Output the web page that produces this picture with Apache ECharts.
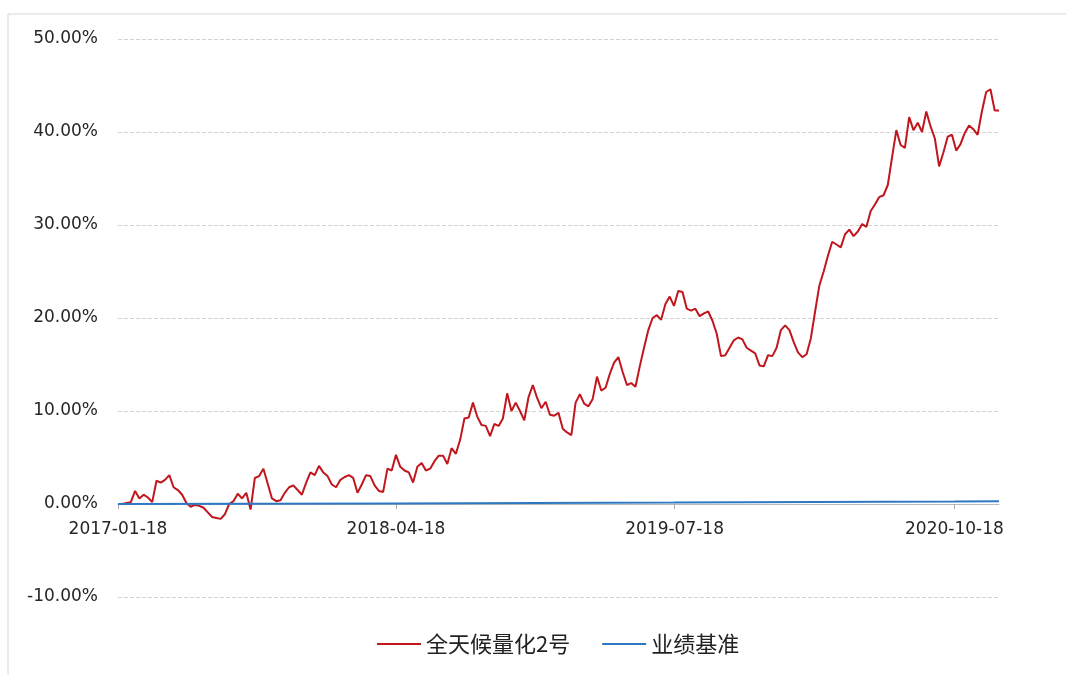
<!DOCTYPE html>
<html>
<head>
<meta charset="utf-8">
<script src="https://cdn.jsdelivr.net/npm/echarts@6/dist/echarts.min.js"></script>
<style>
html,body{margin:0;padding:0;background:#fff;}
#chart{width:1066px;height:675px;}
</style>
</head>
<body>
<div id="chart"></div>
<script>
// Weekly observation dates
const dates = [
'2017-01-18','2017-01-25','2017-02-01','2017-02-08','2017-02-15','2017-02-22','2017-03-01','2017-03-08','2017-03-15','2017-03-22',
'2017-03-29','2017-04-05','2017-04-12','2017-04-19','2017-04-26','2017-05-03','2017-05-10','2017-05-17','2017-05-24','2017-05-31',
'2017-06-07','2017-06-14','2017-06-21','2017-06-28','2017-07-05','2017-07-12','2017-07-19','2017-07-26','2017-08-02','2017-08-09',
'2017-08-16','2017-08-23','2017-08-30','2017-09-06','2017-09-13','2017-09-20','2017-09-27','2017-10-04','2017-10-11','2017-10-18',
'2017-10-25','2017-11-01','2017-11-08','2017-11-15','2017-11-22','2017-11-29','2017-12-06','2017-12-13','2017-12-20','2017-12-27',
'2018-01-03','2018-01-10','2018-01-17','2018-01-24','2018-01-31','2018-02-07','2018-02-14','2018-02-21','2018-02-28','2018-03-07',
'2018-03-14','2018-03-21','2018-03-28','2018-04-04','2018-04-11','2018-04-18','2018-04-25','2018-05-02','2018-05-09','2018-05-16',
'2018-05-23','2018-05-30','2018-06-06','2018-06-13','2018-06-20','2018-06-27','2018-07-04','2018-07-11','2018-07-18','2018-07-25',
'2018-08-01','2018-08-08','2018-08-15','2018-08-22','2018-08-29','2018-09-05','2018-09-12','2018-09-19','2018-09-26','2018-10-03',
'2018-10-10','2018-10-17','2018-10-24','2018-10-31','2018-11-07','2018-11-14','2018-11-21','2018-11-28','2018-12-05','2018-12-12',
'2018-12-19','2018-12-26','2019-01-02','2019-01-09','2019-01-16','2019-01-23','2019-01-30','2019-02-06','2019-02-13','2019-02-20',
'2019-02-27','2019-03-06','2019-03-13','2019-03-20','2019-03-27','2019-04-03','2019-04-10','2019-04-17','2019-04-24','2019-05-01',
'2019-05-08','2019-05-15','2019-05-22','2019-05-29','2019-06-05','2019-06-12','2019-06-19','2019-06-26','2019-07-03','2019-07-10',
'2019-07-17','2019-07-24','2019-07-31','2019-08-07','2019-08-14','2019-08-21','2019-08-28','2019-09-04','2019-09-11','2019-09-18',
'2019-09-25','2019-10-02','2019-10-09','2019-10-16','2019-10-23','2019-10-30','2019-11-06','2019-11-13','2019-11-20','2019-11-27',
'2019-12-04','2019-12-11','2019-12-18','2019-12-25','2020-01-01','2020-01-08','2020-01-15','2020-01-22','2020-01-29','2020-02-05',
'2020-02-12','2020-02-19','2020-02-26','2020-03-04','2020-03-11','2020-03-18','2020-03-25','2020-04-01','2020-04-08','2020-04-15',
'2020-04-22','2020-04-29','2020-05-06','2020-05-13','2020-05-20','2020-05-27','2020-06-03','2020-06-10','2020-06-17','2020-06-24',
'2020-07-01','2020-07-08','2020-07-15','2020-07-22','2020-07-29','2020-08-05','2020-08-12','2020-08-19','2020-08-26','2020-09-02',
'2020-09-09','2020-09-16','2020-09-23','2020-09-30','2020-10-07','2020-10-14','2020-10-21','2020-10-28','2020-11-04','2020-11-11',
'2020-11-18','2020-11-25','2020-12-02','2020-12-09','2020-12-16','2020-12-23','2020-12-30'
];

// 全天候量化2号 cumulative return (%)
const fundValues = [
0.0, 0.0, 0.1, 0.2, 1.4, 0.6, 1.0, 0.7, 0.2, 2.5,
2.3, 2.6, 3.1, 1.8, 1.5, 1.0, 0.1, -0.3, -0.1, -0.2,
-0.4, -0.9, -1.4, -1.5, -1.6, -1.1, 0.0, 0.3, 1.1, 0.6,
1.2, -0.6, 2.8, 3.0, 3.8, 2.2, 0.6, 0.3, 0.4, 1.2,
1.8, 2.0, 1.5, 1.0, 2.3, 3.4, 3.1, 4.1, 3.4, 3.0,
2.1, 1.8, 2.6, 2.9, 3.1, 2.8, 1.2, 2.1, 3.1, 3.0,
2.0, 1.4, 1.3, 3.8, 3.6, 5.3, 4.0, 3.6, 3.4, 2.3,
4.0, 4.4, 3.6, 3.8, 4.6, 5.2, 5.2, 4.3, 6.0, 5.4,
6.9, 9.2, 9.3, 10.9, 9.4, 8.5, 8.4, 7.3, 8.6, 8.4,
9.2, 11.9, 10.0, 10.9, 10.0, 9.0, 11.5, 12.8, 11.4, 10.3,
11.0, 9.6, 9.5, 9.8, 8.1, 7.7, 7.4, 10.9, 11.8, 10.8,
10.5, 11.3, 13.7, 12.2, 12.5, 14.0, 15.2, 15.8, 14.2, 12.8,
13.0, 12.6, 14.8, 16.8, 18.7, 20.0, 20.3, 19.8, 21.5, 22.3,
21.3, 22.9, 22.8, 21.0, 20.8, 21.0, 20.2, 20.5, 20.7, 19.7,
18.3, 15.9, 16.0, 16.8, 17.6, 17.9, 17.7, 16.8, 16.5, 16.2,
14.9, 14.8, 16.0, 15.9, 16.8, 18.7, 19.2, 18.7, 17.4, 16.3,
15.8, 16.1, 17.8, 20.7, 23.5, 25.0, 26.7, 28.2, 27.9, 27.6,
29.0, 29.5, 28.8, 29.3, 30.1, 29.8, 31.5, 32.2, 33.0, 33.2,
34.3, 37.3, 40.2, 38.6, 38.3, 41.6, 40.2, 41.0, 40.0, 42.2,
40.6, 39.3, 36.3, 37.8, 39.5, 39.7, 38.0, 38.7, 39.9, 40.7,
40.3, 39.7, 42.2, 44.3, 44.6, 42.3, 42.3
];

// 业绩基准 (%)
const benchDates = ['2017-01-18','2018-04-18','2019-07-18','2020-10-18','2020-12-30'];
const benchValues = [0.0, 0.05, 0.15, 0.27, 0.30];

const seriesNames = ['全天候量化2号','业绩基准'];
const xLabelDates = ['2017-01-18','2018-04-18','2019-07-18','2020-10-18'];
const yMin = -10, yMax = 50, yStep = 10;

function ts(s){ const p = s.split('-').map(Number); return Date.UTC(p[0], p[1]-1, p[2]); }
function fmtDate(v){ const d = new Date(v); const m = d.getUTCMonth()+1, dd = d.getUTCDate();
  return d.getUTCFullYear() + '-' + (m<10?'0':'') + m + '-' + (dd<10?'0':'') + dd; }

const labelTs = xLabelDates.map(ts);
const gridTop = 39, gridBottom = 78, chartH = 675;
// place the date axis on the 0 line (labels follow it)
const zeroOffset = -(chartH - gridTop - gridBottom) * (0 - yMin) / (yMax - yMin);

const chart = echarts.init(document.getElementById('chart'));
chart.setOption({
  animation: false,
  backgroundColor: '#ffffff',
  graphic: [{
    type: 'rect', shape: {x: 8, y: 14, width: 1200, height: 800},
    style: {fill: 'none', stroke: '#d6d6d6', lineWidth: 1}, silent: true, z: -1
  }],
  grid: {left: 118, right: 67, top: gridTop, bottom: gridBottom, containLabel: false},
  legend: {
    data: seriesNames, top: 628, left: 372, icon: 'rect',
    itemWidth: 44, itemHeight: 2, itemGap: 32,
    textStyle: {fontFamily: 'Noto Sans CJK SC', fontSize: 22, color: '#222'}
  },
  xAxis: {
    type: 'value', min: ts(xLabelDates[0]), max: ts(dates[dates.length-1]),
    offset: zeroOffset,
    axisLine: {onZero: false, lineStyle: {color: '#bbbbbb', width: 1}},
    axisTick: {show: true, customValues: labelTs, length: 5, lineStyle: {color: '#aaaaaa'}},
    axisLabel: {customValues: labelTs, formatter: fmtDate, margin: 17,
      fontFamily: 'DejaVu Sans', fontSize: 17, color: '#262626'},
    splitLine: {show: false}
  },
  yAxis: {
    type: 'value', min: yMin, max: yMax, interval: yStep,
    axisLine: {show: false}, axisTick: {show: false},
    axisLabel: {formatter: v => v.toFixed(2) + '%', margin: 20,
      fontFamily: 'DejaVu Sans', fontSize: 17, color: '#262626'},
    splitLine: {show: true, lineStyle: {color: '#d4d4d4', type: 'dashed', width: 1}}
  },
  series: [
    {name: seriesNames[0], type: 'line', symbol: 'none', z: 2,
     lineStyle: {color: '#c0161e', width: 2}, itemStyle: {color: '#c0161e'},
     data: dates.map((d,i) => [ts(d), fundValues[i]])},
    {name: seriesNames[1], type: 'line', symbol: 'none', z: 3,
     lineStyle: {color: '#2e78c2', width: 2}, itemStyle: {color: '#2e78c2'},
     data: benchDates.map((d,i) => [ts(d), benchValues[i]])}
  ]
});
</script>
</body>
</html>
